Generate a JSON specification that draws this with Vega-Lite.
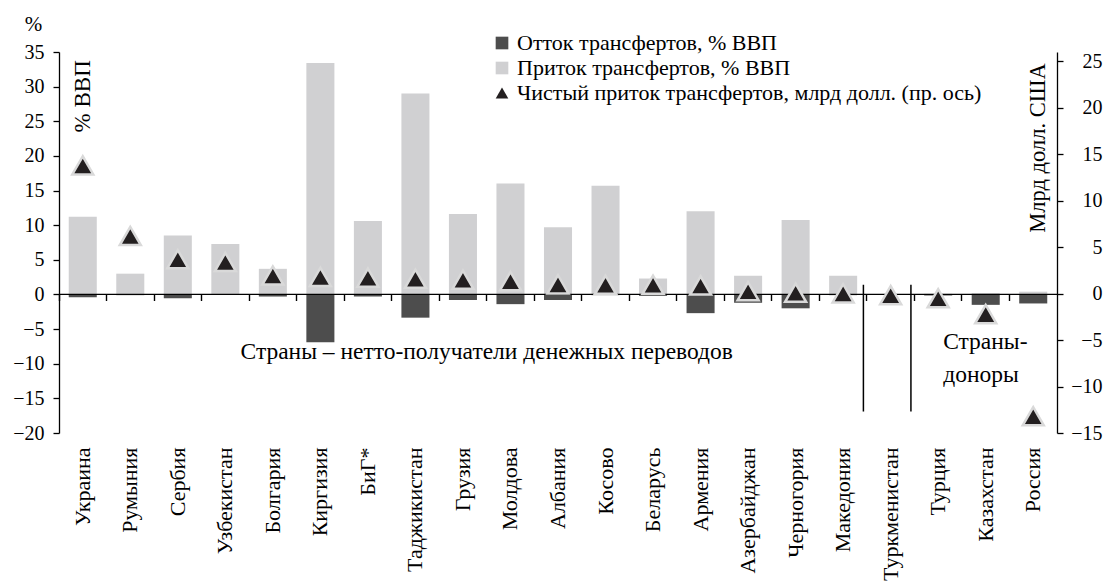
{
  "$schema": "https://vega.github.io/schema/vega-lite/v6.json",
  "width": 998,
  "height": 381,
  "autosize": "none",
  "padding": {"left": 59, "top": 52, "right": 50, "bottom": 151},
  "background": "white",
  "config": {
    "view": {"stroke": null},
    "font": "Liberation Serif",
    "axis": {
      "labelFont": "Liberation Serif",
      "titleFont": "Liberation Serif",
      "labelColor": "black",
      "titleColor": "black",
      "domainColor": "black",
      "tickColor": "black",
      "labelFontSize": 20,
      "titleFontSize": 20,
      "titleFontWeight": "normal",
      "grid": false,
      "domainWidth": 1.3,
      "tickWidth": 1.3,
      "labelOverlap": false,
      "labelBound": false,
      "labelFlush": false
    },
    "legend": {
      "labelFont": "Liberation Serif",
      "labelFontSize": 22,
      "labelColor": "black",
      "labelLimit": 0
    }
  },
  "datasets": {
    "remit": [
      {"country": "Украина", "out": -0.4, "in": 11.2, "net": 13.8},
      {"country": "Румыния", "out": -0.1, "in": 3.0, "net": 6.2},
      {"country": "Сербия", "out": -0.55, "in": 8.5, "net": 3.7},
      {"country": "Узбекистан", "out": -0.05, "in": 7.3, "net": 3.4},
      {"country": "Болгария", "out": -0.3, "in": 3.7, "net": 1.95},
      {"country": "Киргизия", "out": -6.9, "in": 33.4, "net": 1.8},
      {"country": "БиГ*", "out": -0.3, "in": 10.6, "net": 1.72},
      {"country": "Таджикистан", "out": -3.35, "in": 29.0, "net": 1.6},
      {"country": "Грузия", "out": -0.8, "in": 11.6, "net": 1.5},
      {"country": "Молдова", "out": -1.4, "in": 16.0, "net": 1.35},
      {"country": "Албания", "out": -0.8, "in": 9.7, "net": 1.0},
      {"country": "Косово", "out": -0.1, "in": 15.7, "net": 0.95},
      {"country": "Беларусь", "out": -0.2, "in": 2.3, "net": 0.95},
      {"country": "Армения", "out": -2.7, "in": 12.0, "net": 0.88},
      {"country": "Азербайджан", "out": -1.2, "in": 2.7, "net": 0.25},
      {"country": "Черногория", "out": -2.0, "in": 10.75, "net": 0.1},
      {"country": "Македония", "out": -0.1, "in": 2.7, "net": 0.03},
      {"country": "Туркменистан", "out": 0, "in": 0, "net": -0.16},
      {"country": "Турция", "out": -0.15, "in": 0.1, "net": -0.5},
      {"country": "Казахстан", "out": -1.5, "in": 0.2, "net": -2.2},
      {"country": "Россия", "out": -1.3, "in": 0.4, "net": -13.2}
    ]
  },
  "data": {"name": "remit"},
  "layer": [
    {
      "layer": [
        {
          "transform": [{"fold": ["out", "in"], "as": ["key", "value"]}],
          "mark": {"type": "bar", "width": {"band": 0.59}},
          "encoding": {
            "x": {
              "field": "country",
              "type": "nominal",
              "sort": null,
              "scale": {
                "domain": ["Украина", "Румыния", "Сербия", "Узбекистан", "Болгария", "Киргизия", "БиГ*", "Таджикистан", "Грузия", "Молдова", "Албания", "Косово", "Беларусь", "Армения", "Азербайджан", "Черногория", "Македония", "Туркменистан", "Турция", "Казахстан", "Россия"],
                "paddingInner": 0,
                "paddingOuter": 0
              },
              "axis": {"title": null, "orient": "bottom", "domain": false, "ticks": false, "labelAngle": -90, "labelPadding": 14, "labelFont": "Liberation Serif", "labelFontSize": 22}
            },
            "y": {
              "field": "value",
              "type": "quantitative",
              "stack": null,
              "scale": {"domain": [-20, 35], "nice": false, "zero": false},
              "axis": {"orient": "left", "values": [-20, -15, -10, -5, 0, 5, 10, 15, 20, 25, 30, 35], "title": "%", "titleAngle": 0, "titleX": -26, "titleY": -28, "titleAlign": "center", "titleBaseline": "middle", "tickSize": 6, "labelPadding": 9, "labelFont": "Liberation Serif", "labelFontSize": 20, "titleFont": "Liberation Serif", "titleFontSize": 21}
            },
            "color": {
              "field": "key",
              "type": "nominal",
              "scale": {"domain": ["out", "in", "net"], "range": ["#4d4d4d", "#d0d0d2", "#231f20"]},
              "legend": {
                "title": null,
                "orient": "none",
                "legendX": 432,
                "legendY": -20,
                "labelExpr": "datum.label == 'out' ? 'Отток трансфертов, % ВВП' : datum.label == 'in' ? 'Приток трансфертов, % ВВП' : 'Чистый приток трансфертов, млрд долл. (пр. ось)'",
                "labelFont": "Liberation Serif",
                "labelFontSize": 22,
                "symbolSize": 160,
                "rowPadding": 3,
                "labelOffset": 4,
                "labelLimit": 0,
                "symbolStrokeWidth": 0
              }
            }
          }
        },
        {
          "data": {"values": [{}]},
          "mark": {"type": "rule", "color": "black", "strokeWidth": 1.3},
          "encoding": {
            "y": {"datum": 0, "type": "quantitative", "axis": {"orient": "left", "values": [-20, -15, -10, -5, 0, 5, 10, 15, 20, 25, 30, 35], "title": "%", "titleAngle": 0, "titleX": -26, "titleY": -28, "titleAlign": "center", "titleBaseline": "middle", "tickSize": 6, "labelPadding": 9, "labelFont": "Liberation Serif", "labelFontSize": 20, "titleFont": "Liberation Serif", "titleFontSize": 21}}
          }
        },
        {
          "data": {"values": [{"country": "Туркменистан"}, {"country": "Турция"}]},
          "mark": {"type": "rule", "color": "black", "strokeWidth": 1.5, "xOffset": -3.5},
          "encoding": {
            "x": {"field": "country", "type": "nominal", "bandPosition": 0, "axis": {"title": null, "orient": "bottom", "domain": false, "ticks": false, "labelAngle": -90, "labelPadding": 14, "labelFont": "Liberation Serif", "labelFontSize": 22}},
            "y": {"datum": 1.4, "type": "quantitative", "axis": {"orient": "left", "values": [-20, -15, -10, -5, 0, 5, 10, 15, 20, 25, 30, 35], "title": "%", "titleAngle": 0, "titleX": -26, "titleY": -28, "titleAlign": "center", "titleBaseline": "middle", "tickSize": 6, "labelPadding": 9, "labelFont": "Liberation Serif", "labelFontSize": 20, "titleFont": "Liberation Serif", "titleFontSize": 21}},
            "y2": {"datum": -16.9}
          }
        },
        {
          "data": {"values": [{}]},
          "mark": {"type": "text", "text": "% ВВП", "angle": 270, "fontSize": 23, "font": "Liberation Serif", "color": "black", "align": "center", "baseline": "middle"},
          "encoding": {
            "x": {"datum": "Украина", "type": "nominal", "axis": {"title": null, "orient": "bottom", "domain": false, "ticks": false, "labelAngle": -90, "labelPadding": 14, "labelFont": "Liberation Serif", "labelFontSize": 22}},
            "y": {"datum": 28.6, "type": "quantitative", "axis": {"orient": "left", "values": [-20, -15, -10, -5, 0, 5, 10, 15, 20, 25, 30, 35], "title": "%", "titleAngle": 0, "titleX": -26, "titleY": -28, "titleAlign": "center", "titleBaseline": "middle", "tickSize": 6, "labelPadding": 9, "labelFont": "Liberation Serif", "labelFontSize": 20, "titleFont": "Liberation Serif", "titleFontSize": 21}}
          }
        },
        {
          "data": {"values": [{}]},
          "mark": {"type": "text", "text": "Страны – нетто-получатели денежных переводов", "fontSize": 23.5, "font": "Liberation Serif", "color": "black", "align": "center", "baseline": "middle"},
          "encoding": {
            "x": {"datum": "Молдова", "type": "nominal", "bandPosition": 0, "axis": {"title": null, "orient": "bottom", "domain": false, "ticks": false, "labelAngle": -90, "labelPadding": 14, "labelFont": "Liberation Serif", "labelFontSize": 22}},
            "y": {"datum": -8.3, "type": "quantitative", "axis": {"orient": "left", "values": [-20, -15, -10, -5, 0, 5, 10, 15, 20, 25, 30, 35], "title": "%", "titleAngle": 0, "titleX": -26, "titleY": -28, "titleAlign": "center", "titleBaseline": "middle", "tickSize": 6, "labelPadding": 9, "labelFont": "Liberation Serif", "labelFontSize": 20, "titleFont": "Liberation Serif", "titleFontSize": 21}}
          }
        },
        {
          "data": {"values": [{}]},
          "mark": {"type": "text", "text": "Страны-", "fontSize": 23.5, "font": "Liberation Serif", "color": "black", "align": "left", "baseline": "middle", "dx": 5},
          "encoding": {
            "x": {"datum": "Турция", "type": "nominal", "axis": {"title": null, "orient": "bottom", "domain": false, "ticks": false, "labelAngle": -90, "labelPadding": 14, "labelFont": "Liberation Serif", "labelFontSize": 22}},
            "y": {"datum": -6.8, "type": "quantitative", "axis": {"orient": "left", "values": [-20, -15, -10, -5, 0, 5, 10, 15, 20, 25, 30, 35], "title": "%", "titleAngle": 0, "titleX": -26, "titleY": -28, "titleAlign": "center", "titleBaseline": "middle", "tickSize": 6, "labelPadding": 9, "labelFont": "Liberation Serif", "labelFontSize": 20, "titleFont": "Liberation Serif", "titleFontSize": 21}}
          }
        },
        {
          "data": {"values": [{}]},
          "mark": {"type": "text", "text": "доноры", "fontSize": 23.5, "font": "Liberation Serif", "color": "black", "align": "left", "baseline": "middle", "dx": 5},
          "encoding": {
            "x": {"datum": "Турция", "type": "nominal", "axis": {"title": null, "orient": "bottom", "domain": false, "ticks": false, "labelAngle": -90, "labelPadding": 14, "labelFont": "Liberation Serif", "labelFontSize": 22}},
            "y": {"datum": -11.6, "type": "quantitative", "axis": {"orient": "left", "values": [-20, -15, -10, -5, 0, 5, 10, 15, 20, 25, 30, 35], "title": "%", "titleAngle": 0, "titleX": -26, "titleY": -28, "titleAlign": "center", "titleBaseline": "middle", "tickSize": 6, "labelPadding": 9, "labelFont": "Liberation Serif", "labelFontSize": 20, "titleFont": "Liberation Serif", "titleFontSize": 21}}
          }
        }
      ]
    },
    {
      "transform": [{"fold": ["net"], "as": ["key", "value"]}],
      "mark": {"type": "point", "filled": true, "size": 440, "stroke": "#d9d9d9", "strokeWidth": 2.5, "opacity": 1},
      "encoding": {
        "x": {
          "field": "country",
          "type": "nominal",
          "axis": {"title": null, "orient": "bottom", "offset": -138.5, "domain": false, "labels": false, "ticks": true, "tickSize": 6, "tickWidth": 1.4, "bandPosition": 0}
        },
        "y": {
          "field": "value",
          "type": "quantitative",
          "scale": {"domain": [-15, 26], "nice": false, "zero": false},
          "axis": {
            "orient": "right",
            "values": [-15, -10, -5, 0, 5, 10, 15, 20, 25],
            "title": "Млрд долл. США",
            "titleAngle": 270,
            "titleX": -20,
            "titleY": 95.5,
            "titleAlign": "center",
            "titleBaseline": "middle",
            "titleFont": "Liberation Serif",
            "titleFontSize": 22.5,
            "labelFont": "Liberation Serif",
            "labelFontSize": 20,
            "tickSize": 6,
            "labelAlign": "right",
            "labelPadding": 39
          }
        },
        "color": {
          "field": "key",
          "type": "nominal",
          "scale": {"domain": ["out", "in", "net"], "range": ["#4d4d4d", "#d0d0d2", "#231f20"]},
          "legend": {
            "title": null,
            "orient": "none",
            "legendX": 432,
            "legendY": -20,
            "labelExpr": "datum.label == 'out' ? 'Отток трансфертов, % ВВП' : datum.label == 'in' ? 'Приток трансфертов, % ВВП' : 'Чистый приток трансфертов, млрд долл. (пр. ось)'",
            "labelFont": "Liberation Serif",
            "labelFontSize": 22,
            "symbolSize": 160,
            "rowPadding": 3,
            "labelOffset": 4,
            "labelLimit": 0,
            "symbolStrokeWidth": 0
          }
        },
        "shape": {
          "field": "key",
          "type": "nominal",
          "scale": {"domain": ["out", "in", "net"], "range": ["square", "square", "triangle-up"]},
          "legend": {
            "title": null,
            "orient": "none",
            "legendX": 432,
            "legendY": -20,
            "labelExpr": "datum.label == 'out' ? 'Отток трансфертов, % ВВП' : datum.label == 'in' ? 'Приток трансфертов, % ВВП' : 'Чистый приток трансфертов, млрд долл. (пр. ось)'",
            "labelFont": "Liberation Serif",
            "labelFontSize": 22,
            "symbolSize": 160,
            "rowPadding": 3,
            "labelOffset": 4,
            "labelLimit": 0,
            "symbolStrokeWidth": 0
          }
        }
      }
    }
  ],
  "resolve": {"scale": {"y": "independent"}, "axis": {"x": "independent"}}
}
